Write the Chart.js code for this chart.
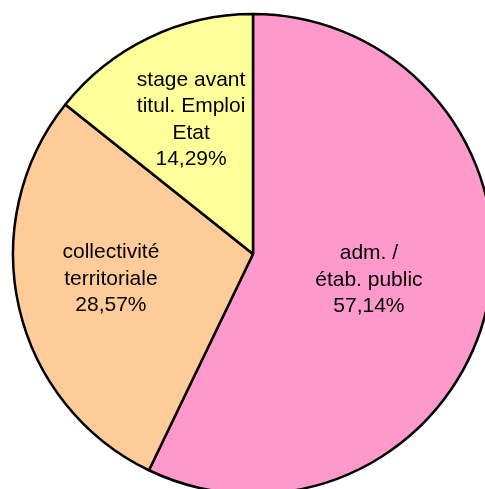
<!DOCTYPE html>
<html>
<head>
<meta charset="utf-8">
<script src="https://cdn.jsdelivr.net/npm/chart.js@4"></script>
<style>
  html, body { margin: 0; padding: 0; background: #fff; overflow: hidden; }
  #camembert { display: block; }
</style>
</head>
<body>
<canvas id="camembert" width="506" height="508"></canvas>
<script>
// categories, dans l'ordre horaire depuis midi
const categories = [
  ["adm. /", "étab. public"],
  ["collectivité", "territoriale"],
  ["stage avant", "titul. Emploi", "Etat"]
];
const valeurs = [57.14, 28.57, 14.29];

const couleurs = ["#FF99CC", "#FFCC99", "#FFFF99"];
// position du centre de chaque étiquette, en fraction du rayon
const posEtiquettes = [[0.483, 0.108], [-0.592, 0.104], [-0.258, -0.559]];

const etiquettes = {
  id: "etiquettes",
  afterDatasetsDraw(chart) {
    const ctx = chart.ctx;
    const arcs = chart.getDatasetMeta(0).data;
    ctx.save();
    ctx.font = "21px 'Liberation Sans', Arial, sans-serif";
    ctx.fillStyle = "#000";
    ctx.textAlign = "center";
    ctx.textBaseline = "middle";
    const interligne = 26.5;
    arcs.forEach((arc, i) => {
      const lignes = categories[i].concat(valeurs[i].toFixed(2).replace(".", ",") + "%");
      const cx = arc.x + posEtiquettes[i][0] * arc.outerRadius;
      const cy = arc.y + posEtiquettes[i][1] * arc.outerRadius;
      const y0 = cy - (lignes.length - 1) * interligne / 2;
      lignes.forEach((l, k) => ctx.fillText(l, cx, y0 + k * interligne));
    });
    ctx.restore();
  }
};

new Chart(document.getElementById("camembert"), {
  type: "pie",
  data: {
    labels: categories,
    datasets: [{
      data: valeurs,
      backgroundColor: couleurs,
      borderColor: "#000",
      borderWidth: 2.5
    }]
  },
  options: {
    responsive: false,
    animation: false,
    radius: 240,
    layout: { padding: 0 },
    plugins: {
      legend: { display: false },
      tooltip: { enabled: false }
    }
  },
  plugins: [etiquettes]
});
</script>
</body>
</html>
